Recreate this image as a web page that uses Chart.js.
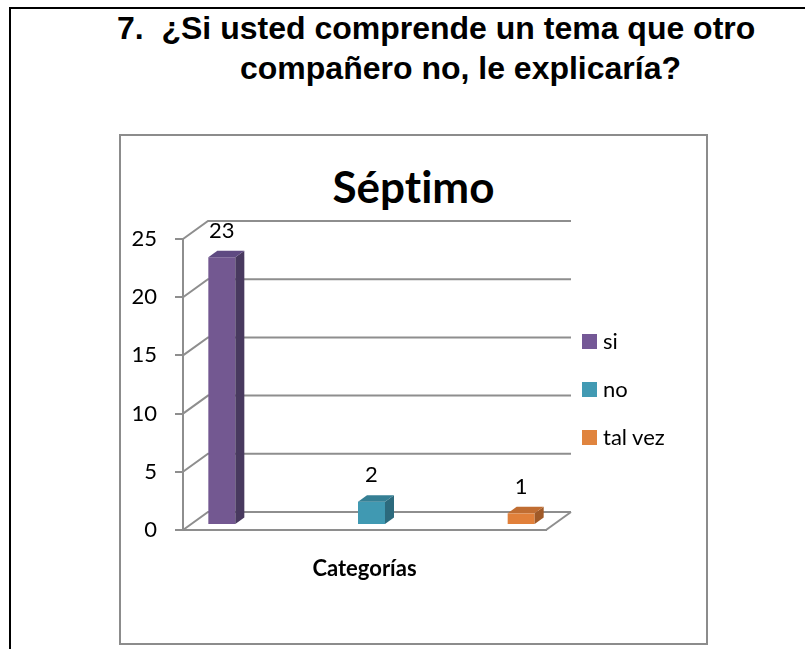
<!DOCTYPE html>
<html>
<head>
<meta charset="utf-8">
<script src="https://cdn.jsdelivr.net/npm/chart.js@4"></script>
<style>
  html, body { margin:0; padding:0; background:#fff; }
  body { width:805px; height:649px; overflow:hidden; position:relative; }
  #frameTop { position:absolute; left:9px; top:7px; width:796px; height:2px; background:#000; }
  #frameLeft { position:absolute; left:9px; top:7px; width:2px; height:642px; background:#000; }
  .t { position:absolute; font-family:"Liberation Sans", Arial, sans-serif; font-weight:bold;
       font-size:32px; line-height:32px; white-space:nowrap; color:#000; }
  #box { position:absolute; left:119px; top:134px; width:585px; height:507px; border:2px solid #8c8c8c; }
  #ctitle { position:absolute; left:119px; width:589px; top:164px; text-align:center;
            font-family:Lato, sans-serif; font-weight:bold; font-size:44px; line-height:44px; color:#000;
            font-variant-ligatures:none; font-feature-settings:"liga" 0; }
  #cv { position:absolute; left:0; top:0; }
  .lg { position:absolute; left:582px; font-family:Lato, sans-serif; font-size:22px; line-height:22px; color:#000; white-space:nowrap; }
  .lg .sw { position:absolute; left:0; width:15px; height:15px; }
  .lg .tx { position:absolute; left:21px; top:0; }
</style>
</head>
<body>
<div id="frameTop"></div>
<div id="frameLeft"></div>
<div class="t" style="left:117px; top:12px;">7.&nbsp;&nbsp;¿Si usted comprende un tema que otro</div>
<div class="t" style="left:240px; top:52px;">compañero no, le explicaría?</div>
<div id="box"></div>
<div id="ctitle">Séptimo</div>
<canvas id="cv" width="805" height="649"></canvas>
<div id="legend"></div>
<script>
// ---- data ----
const categories = ['Categorías'];
const seriesNames = ['si', 'no', 'tal vez'];
const seriesValues = [23, 2, 1];
const yTicks = [0, 5, 10, 15, 20, 25];

// ---- styles ----
const frontColors = ['#735891', '#4099B2', '#E1803A'];
const sideColors  = ['#48395F', '#2C6A7D', '#A05A28'];
const topColors   = ['#5F4A82', '#357F94', '#C06D32'];
const legendColors = ['#745896', '#429AB3', '#E0843E'];
const GRID = '#8e8e8e';
const DX = 25, DY = 18;        // wall depth
const BAR_OX = 7, BAR_OY = 5;  // bar depth position
const BDX = 9, BDY = 6.5;      // bar depth

// legend (HTML)
const lg = document.getElementById('legend');
seriesNames.forEach((n, i) => {
  const d = document.createElement('div');
  d.className = 'lg';
  d.style.top = (329.5 + i * 48) + 'px';
  d.innerHTML = '<div class="sw" style="top:4.5px;background:' + legendColors[i] + '"></div><div class="tx">' + n + '</div>';
  lg.appendChild(d);
});

const threeD = {
  id: 'threeD',
  beforeDatasetsDraw(chart) {
    const { ctx, chartArea: a, scales: { y } } = chart;
    ctx.save();
    ctx.strokeStyle = GRID;
    ctx.lineWidth = 2;
    yTicks.forEach(v => {
      const py = y.getPixelForValue(v);
      ctx.beginPath();
      ctx.moveTo(a.left, py);
      ctx.lineTo(a.left + DX, py - DY);
      ctx.lineTo(a.right + DX, py - DY);
      ctx.stroke();
    });
    const p0 = y.getPixelForValue(0);
    ctx.beginPath();
    ctx.moveTo(a.right, p0);
    ctx.lineTo(a.right + DX, p0 - DY);
    ctx.stroke();
    ctx.restore();
    ctx.save();
    ctx.translate(BAR_OX, -BAR_OY);
  },
  afterDatasetsDraw(chart) {
    const ctx = chart.ctx;
    chart.data.datasets.forEach((ds, i) => {
      const meta = chart.getDatasetMeta(i);
      meta.data.forEach((bar, j) => {
        const { x, y, base, width } = bar.getProps(['x', 'y', 'base', 'width'], true);
        const l = x - width / 2, r = x + width / 2;
        ctx.fillStyle = sideColors[i];
        ctx.beginPath();
        ctx.moveTo(r, y); ctx.lineTo(r + BDX, y - BDY); ctx.lineTo(r + BDX, base - BDY); ctx.lineTo(r, base);
        ctx.closePath(); ctx.fill();
        ctx.fillStyle = topColors[i];
        ctx.beginPath();
        ctx.moveTo(l, y); ctx.lineTo(l + BDX, y - BDY); ctx.lineTo(r + BDX, y - BDY); ctx.lineTo(r, y);
        ctx.closePath(); ctx.fill();
        ctx.fillStyle = '#000';
        ctx.font = '22px Lato';
        ctx.textAlign = 'center';
        ctx.textBaseline = 'alphabetic';
        ctx.fillText(String(ds.data[j]), x, y - BDY - 13);
      });
    });
    ctx.restore();
  }
};

function draw() {
  new Chart(document.getElementById('cv'), {
    type: 'bar',
    data: {
      labels: categories,
      datasets: seriesNames.map((n, i) => ({
        label: n,
        data: [seriesValues[i]],
        backgroundColor: frontColors[i],
        borderWidth: 0,
        categoryPercentage: 1.2369,
        barPercentage: 0.1804
      }))
    },
    options: {
      responsive: false,
      animation: false,
      events: [],
      layout: { padding: { left: 120, right: 259, top: 239, bottom: 0 } },
      plugins: { legend: { display: false }, title: { display: false }, tooltip: { enabled: false } },
      scales: {
        x: {
          grid: { display: false, drawTicks: false },
          border: { display: true, color: GRID, width: 2 },
          ticks: { padding: 26, color: '#000', font: { family: 'Lato', size: 22, weight: 'bold' } },
          afterFit: s => { s.height = 119; }
        },
        y: {
          min: 0, max: 25,
          afterBuildTicks: s => { s.ticks = yTicks.map(v => ({ value: v })); },
          grid: { display: true, drawOnChartArea: false, drawTicks: true, tickLength: 8, color: GRID, lineWidth: 2 },
          border: { display: true, color: GRID, width: 2 },
          ticks: { padding: 18, color: '#000', font: { family: 'Lato', size: 22 } },
          afterFit: s => { s.width = 63; }
        }
      }
    },
    plugins: [threeD]
  });
}
Promise.all([document.fonts.load('22px Lato'), document.fonts.load('bold 22px Lato')]).then(draw, draw);
</script>
</body>
</html>
